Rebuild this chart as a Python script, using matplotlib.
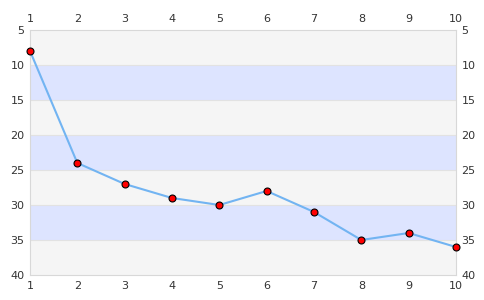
import numpy as np
import matplotlib.pyplot as plt

x = [1, 2, 3, 4, 5, 6, 7, 8, 9, 10]
y = [8, 24, 27, 29, 30, 28, 31, 35, 34, 36]
y_ticks = [5, 10, 15, 20, 25, 30, 35, 40]

fig = plt.figure(figsize=(4.85, 3.0), dpi=100)
ax = fig.add_axes([30 / 485, 25 / 300, 426 / 485, 245 / 300])

# alternating bands
for i in range(len(y_ticks) - 1):
    c = '#f5f5f5' if i % 2 == 0 else '#dde4ff'
    ax.axhspan(y_ticks[i], y_ticks[i + 1], color=c, lw=0, zorder=0)
for t in y_ticks[1:-1]:
    ax.axhline(t, color='#e2e2e2', lw=0.8, zorder=1)

ax.plot(x, y, color='#72b4f2', lw=1.5, zorder=2)
ax.plot(x, y, 'o', ms=5, mfc='red', mec='black', mew=0.8, zorder=3, clip_on=False)

ax.set_xlim(1, 10)
ax.set_ylim(40, 5)
ax.set_xticks(x)
ax.set_yticks(y_ticks)
ax.tick_params(length=0, labelsize=8, colors='#333333', pad=4,
               top=True, labeltop=True, right=True, labelright=True)
for s in ax.spines.values():
    s.set_color('#d8d8d8')
    s.set_linewidth(0.8)

fig.savefig('out.png', dpi=100)
